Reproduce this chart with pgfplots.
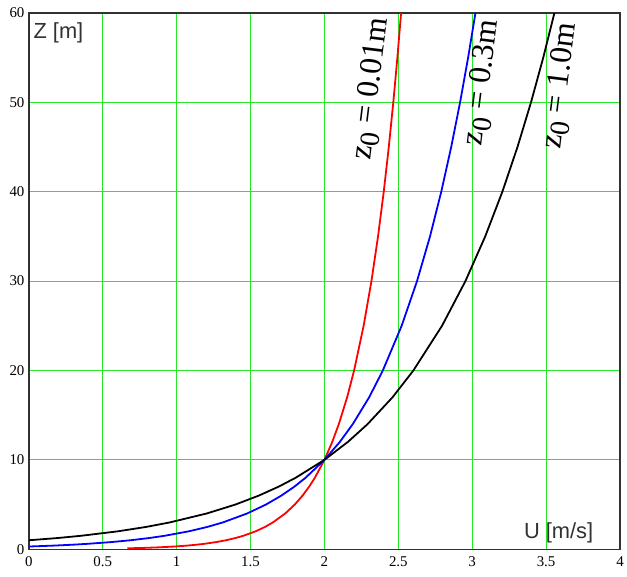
\documentclass[border=0pt]{standalone}
\usepackage{fontspec}
\setmainfont{Liberation Serif}
\newfontfamily\arial{Liberation Sans}
\usepackage{pgfplots}
\pgfplotsset{compat=1.18}
\definecolor{gridgreen}{RGB}{40,230,40}
\definecolor{framegray}{RGB}{50,50,50}
\begin{document}
\begin{tikzpicture}
\begin{axis}[
  scale only axis,
  width=593bp, height=538bp,
  xmin=0, xmax=4, ymin=0, ymax=60,
  xtick={0,0.5,1,1.5,2,2.5,3,3.5,4},
  ytick={0,10,20,30,40,50,60},
  xticklabels={0,0.5,1,1.5,2,2.5,3,3.5,4},
  yticklabels={0,10,20,30,40,50,60},
  major tick length=0pt,
  grid=major,
  major grid style={gridgreen, line width=1.1bp},
  axis line style={framegray, line width=1.2bp},
  tick label style={font=\fontsize{15}{15}\selectfont},
  xticklabel style={yshift=-4bp},
  yticklabel style={xshift=-1bp},
  clip=true,
]
\addplot[red, line width=1.8bp] coordinates {
(0.66667,0.1) (0.78406,0.15) (0.86735,0.2) (0.98475,0.3) (1.06804,0.4)
(1.13265,0.5) (1.18544,0.6) (1.26873,0.8) (1.33334,1) (1.39794,1.25)
(1.45073,1.5) (1.53402,2) (1.59863,2.5) (1.65142,3) (1.73471,4)
(1.79932,5) (1.85210,6) (1.89674,7) (1.93540,8) (2.00000,10)
(2.05279,12) (2.09742,14) (2.15364,17) (2.20069,20) (2.26530,25)
(2.31809,30) (2.36272,35) (2.40138,40) (2.43548,45) (2.46599,50)
(2.49358,55) (2.51878,60)
};
\addplot[blue, line width=1.8bp] coordinates {
(0,0.3) (0.16408,0.4) (0.29135,0.5) (0.39534,0.6) (0.55943,0.8)
(0.68669,1) (0.81397,1.25) (0.91796,1.5) (1.08202,2) (1.20931,2.5)
(1.31330,3) (1.47738,4) (1.60466,5) (1.70864,6) (1.79657,7)
(1.87273,8) (2.00000,10) (2.10399,12) (2.19191,14) (2.30265,17)
(2.39534,20) (2.52262,25) (2.62661,30) (2.71453,35) (2.79069,40)
(2.85787,45) (2.91796,50) (2.97232,55) (3.02195,60)
};
\addplot[black, line width=1.8bp] coordinates {
(0,1) (0.19382,1.25) (0.35218,1.5) (0.60206,2) (0.79588,2.5)
(0.95424,3) (1.20412,4) (1.39794,5) (1.55630,6) (1.69020,7)
(1.80618,8) (2.00000,10) (2.15836,12) (2.29226,14) (2.46090,17)
(2.60206,20) (2.79588,25) (2.95424,30) (3.08814,35) (3.20412,40)
(3.30642,45) (3.39794,50) (3.48073,55) (3.55630,60)
};
\node[anchor=north west, font=\arial\fontsize{22}{22}\selectfont, text=framegray, inner sep=0pt] at (axis cs:0.03,58.9) {Z [m]};
\node[anchor=south east, font=\arial\fontsize{22}{22}\selectfont, text=framegray, inner sep=0pt] at (axis cs:3.82,0.7) {U [m/s]};
\node[rotate=83, font=\fontsize{32}{32}\selectfont, inner sep=0pt] at (axis cs:2.32,51.5) {z\raisebox{-0.45ex}{\fontsize{28}{28}\selectfont 0} = 0.01m};
\node[rotate=83, font=\fontsize{32}{32}\selectfont, inner sep=0pt] at (axis cs:3.07,52.2) {z\raisebox{-0.45ex}{\fontsize{28}{28}\selectfont 0} = 0.3m};
\node[rotate=83, font=\fontsize{32}{32}\selectfont, inner sep=0pt] at (axis cs:3.60,51.8) {z\raisebox{-0.45ex}{\fontsize{28}{28}\selectfont 0} = 1.0m};
\end{axis}
\path (current axis.south west) ++(-29bp,-27bp);
\path (current axis.north east) ++(5bp,13bp);
\end{tikzpicture}
\end{document}
